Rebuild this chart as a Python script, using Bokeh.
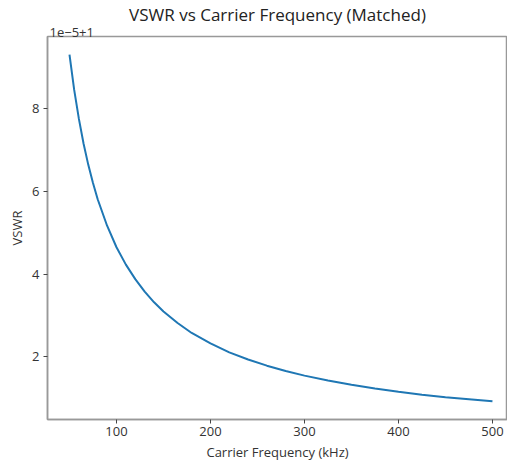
from bokeh.plotting import figure
from bokeh.models import FixedTicker, Range1d, Title
from bokeh.embed import file_html
from bokeh.resources import INLINE

# Carrier frequency (kHz)
freq_khz = [50, 55, 60, 65, 70, 75, 80, 90, 100, 110, 120, 130, 140, 150, 165,
            180, 200, 220, 240, 260, 280, 300, 325, 350, 375, 400, 425, 450, 475, 500]
# VSWR - 1, in units of 1e-5 (offset "1e-5+1")
vswr_offset_e5 = [9.30, 8.45, 7.75, 7.15, 6.64, 6.20, 5.81, 5.17, 4.65, 4.23, 3.88,
                  3.58, 3.32, 3.10, 2.82, 2.58, 2.33, 2.11, 1.94, 1.79, 1.66, 1.55,
                  1.43, 1.33, 1.24, 1.16, 1.09, 1.03, 0.98, 0.93]
x_ticks = [100, 200, 300, 400, 500]
y_ticks = [2, 4, 6, 8]

FONT = "Open Sans"

p = figure(width=507, height=463, output_backend="svg", toolbar_location=None,
           x_range=Range1d(26.6, 516.0), y_range=Range1d(0.49, 9.74),
           title="VSWR vs Carrier Frequency (Matched)")
p.min_border_left = 47
p.min_border_right = 0
p.min_border_top = 35
p.min_border_bottom = 42

p.title.align = "center"
p.title.text_font = FONT
p.title.text_font_size = "17px"
p.title.text_font_style = "normal"
p.title.text_color = "#222222"
p.title.standoff = 0
p.title.text_line_height = 0.8

offset_title = Title(text="1e\u22125+1", align="left", text_font=FONT,
                     text_font_size="13px", text_font_style="normal",
                     text_color="#333333", standoff=0, offset=2)
p.add_layout(offset_title, "above")

p.line(freq_khz, vswr_offset_e5, line_color="#1f77b4", line_width=2)

p.grid.visible = False
p.outline_line_color = "#999999"
p.outline_line_width = 1.5

for ax in (p.xaxis[0], p.yaxis[0]):
    ax.axis_line_color = "#999999"
    ax.axis_line_width = 1.5
    ax.major_tick_line_color = "#444444"
    ax.major_tick_out = 4
    ax.major_tick_in = 0
    ax.minor_tick_line_color = None
    ax.major_label_text_font = FONT
    ax.major_label_text_font_size = "13px"
    ax.major_label_text_color = "#333333"
    ax.axis_label_text_font = FONT
    ax.axis_label_text_font_size = "13px"
    ax.axis_label_text_font_style = "normal"
    ax.axis_label_text_color = "#333333"
    ax.major_label_standoff = 4

p.xaxis[0].ticker = FixedTicker(ticks=x_ticks)
p.yaxis[0].ticker = FixedTicker(ticks=y_ticks)
p.xaxis[0].major_label_standoff = 3
p.xaxis[0].axis_label = "Carrier Frequency (kHz)"
p.yaxis[0].axis_label = "VSWR"
p.xaxis[0].axis_label_standoff = 4
p.yaxis[0].axis_label_standoff = 3

open("out.html", "w").write(file_html(p, INLINE))
